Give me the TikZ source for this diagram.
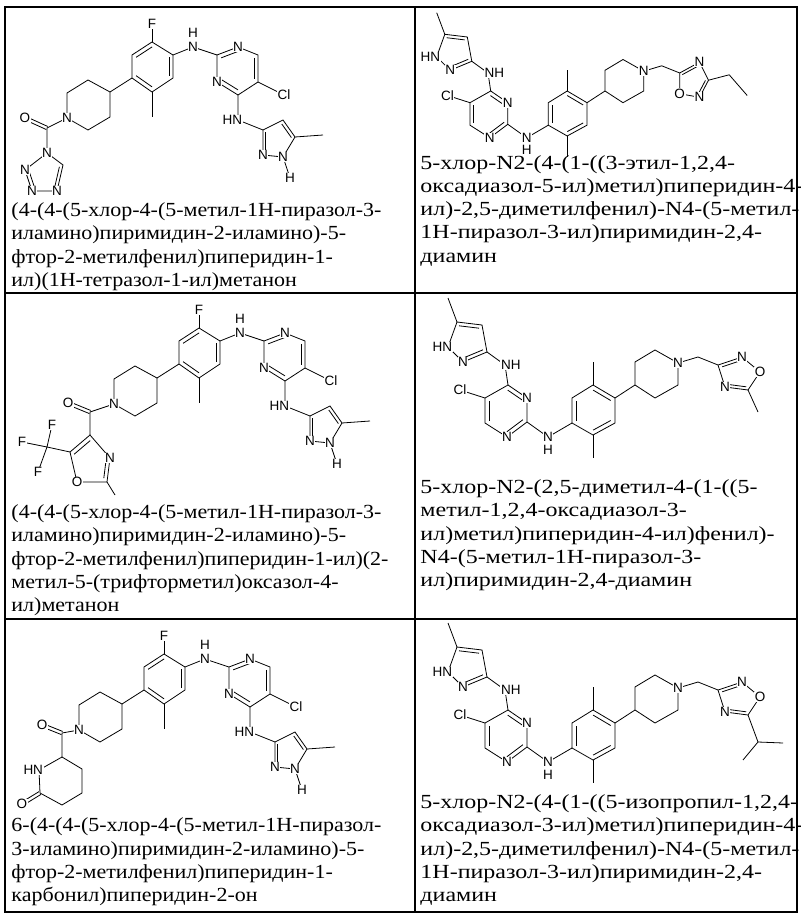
\documentclass[tikz,border=0pt]{standalone}
\usepackage{fontspec}
\setmainfont{Liberation Serif}
\setsansfont{Liberation Sans}
\usetikzlibrary{calc}
\newcommand\rdb[3]{\draw ($(#1)!0.2!(#3)$)--($(#2)!0.2!(#3)$);}
\newcommand\cdb[2]{\draw ($(#1)!1.7pt!90:(#2)$)--($(#2)!1.7pt!-90:(#1)$); \draw ($(#1)!1.7pt!-90:(#2)$)--($(#2)!1.7pt!90:(#1)$);}
\newcommand\leftcoords{%
 \coordinate (p1) at (152,42); \coordinate (p2) at (173,55); \coordinate (p3) at (173,78);
 \coordinate (p4) at (152,92); \coordinate (p5) at (132,78); \coordinate (p6) at (132,55);
 \coordinate (pc) at (152.5,66.5); \coordinate (F) at (152,24); \coordinate (me1) at (152,117);
 \coordinate (nh) at (193,47); \coordinate (h1) at (193,33);
 \coordinate (q1) at (217,55); \coordinate (q2) at (238,47); \coordinate (q3) at (258,55);
 \coordinate (q4) at (258,82); \coordinate (q5) at (238,95); \coordinate (q6) at (217,82);
 \coordinate (qc) at (237.7,69.3); \coordinate (cl) at (284,95); \coordinate (nh4) at (238,120);
 \coordinate (r1) at (263,130); \coordinate (r2) at (283,120); \coordinate (r3) at (295,137);
 \coordinate (r4) at (283,157); \coordinate (r5) at (263,155); \coordinate (rc) at (277,140);
 \coordinate (rh) at (290,178); \coordinate (me2) at (323,135);
 \coordinate (s1) at (110,92); \coordinate (s2) at (88,80); \coordinate (s3) at (67,93);
 \coordinate (s4) at (67,118); \coordinate (s5) at (88,130); \coordinate (s6) at (110,117);}
\newcommand\leftbonds{%
 \draw (p1)--(p2)--(p3)--(p4)--(p5)--(p6)--cycle;
 \rdb{p6}{p1}{pc}\rdb{p2}{p3}{pc}\rdb{p4}{p5}{pc}
 \draw (p1)--(F); \draw (p4)--(me1); \draw (p2)--(nh)--(q1);
 \draw (q1)--(q2)--(q3)--(q4)--(q5)--(q6)--cycle;
 \rdb{q1}{q2}{qc}\rdb{q3}{q4}{qc}\rdb{q5}{q6}{qc}
 \draw (q4)--(cl); \draw (q5)--(nh4)--(r1);
 \draw (r1)--(r2)--(r3)--(r4)--(r5)--cycle; \rdb{r2}{r3}{rc}\rdb{r5}{r1}{rc}
 \draw (r3)--(me2); \draw (r4)--(rh);
 \draw (p5)--(s1); \draw (s1)--(s2)--(s3)--(s4)--(s5)--(s6)--cycle;}
\newcommand\leftlabels[1]{%
 \node[atom] (#1F) at (F) {F};
 \node[atom] (#1Na) at (nh) {N}; \node[atom] (#1Ha) at (h1) {H};
 \node[atom] (#1Nb) at (q2) {N}; \node[atom] (#1Nc) at (q6) {N};
 \node[atom] (#1Cl) at (cl) {Cl};
 \node[atom,anchor=east] (#1Nd) at ($(nh4)+(5,0)$) {HN};
 \node[atom] (#1Ne) at (r4) {N}; \node[atom] (#1Nf) at (r5) {N}; \node[atom] (#1Hb) at (rh) {H};
 \node[atom] (#1Ng) at (s4) {N};}
\newcommand\rightcoords{%
 \coordinate (me) at (43,3); \coordinate (a1) at (52,27); \coordinate (a2) at (77,30);
 \coordinate (a3) at (82,57); \coordinate (a4) at (58,67); \coordinate (a5) at (43,52); \coordinate (ac) at (62,46);
 \coordinate (nh) at (100,70);
 \coordinate (b1) at (103,90); \coordinate (b2) at (122,103); \coordinate (b3) at (122,127);
 \coordinate (b4) at (102,142); \coordinate (b5) at (80,128); \coordinate (b6) at (80,103); \coordinate (bc) at (101.5,115.5);
 \coordinate (cl) at (55,95); \coordinate (nh2) at (143,142); \coordinate (h2) at (143,155);
 \coordinate (c1) at (167,128); \coordinate (c2) at (167,103); \coordinate (c3) at (188,90);
 \coordinate (c4) at (210,103); \coordinate (c5) at (210,128); \coordinate (c6) at (188,140); \coordinate (cc) at (188.5,115.5);
 \coordinate (mt) at (188,67); \coordinate (mb) at (188,163);
 \coordinate (d1) at (230,90); \coordinate (d2) at (230,67); \coordinate (d3) at (250,55);
 \coordinate (d4) at (273,68); \coordinate (d5) at (273,90); \coordinate (d6) at (250,103); \coordinate (ch2) at (293,62);}
\newcommand\rightbonds{%
 \draw (me)--(a1); \draw (a1)--(a2)--(a3)--(a4)--(a5)--cycle; \rdb{a1}{a2}{ac}\rdb{a3}{a4}{ac}
 \draw (a3)--(nh)--(b1);
 \draw (b1)--(b2)--(b3)--(b4)--(b5)--(b6)--cycle; \rdb{b1}{b2}{bc}\rdb{b3}{b4}{bc}\rdb{b5}{b6}{bc}
 \draw (b6)--(cl); \draw (b3)--(nh2)--(c1);
 \draw (c1)--(c2)--(c3)--(c4)--(c5)--(c6)--cycle; \rdb{c1}{c2}{cc}\rdb{c3}{c4}{cc}\rdb{c5}{c6}{cc}
 \draw (c3)--(mt); \draw (c6)--(mb); \draw (c4)--(d1);
 \draw (d1)--(d2)--(d3)--(d4)--(d5)--(d6)--cycle; \draw (d4)--(ch2);}
\newcommand\rightlabels[1]{%
 \node[atom,anchor=east] (#1Na) at ($(a5)+(5,0)$) {HN}; \node[atom] (#1Nb) at (a4) {N};
 \node[atom,anchor=west] (#1Nc) at ($(nh)+(-5,0)$) {NH};
 \node[atom] (#1Nd) at (b2) {N}; \node[atom] (#1Ne) at (b4) {N}; \node[atom] (#1Cl) at (cl) {Cl};
 \node[atom] (#1Nf) at (nh2) {N}; \node[atom] (#1H) at (h2) {H}; \node[atom] (#1Ng) at (d4) {N};}
\newcommand\oxthree{%
 \coordinate (e1) at (313,70); \coordinate (e2) at (337,62); \coordinate (e3) at (355,77);
 \coordinate (e4) at (343,95); \coordinate (e5) at (320,92); \coordinate (ec) at (334,79);
 \draw (ch2)--(e1); \draw (e1)--(e2)--(e3)--(e4)--(e5)--cycle; \rdb{e1}{e2}{ec}\rdb{e4}{e5}{ec}}
\tikzset{atom/.style={fill=white,inner sep=0.6pt,font=\fontsize{13.5}{13.5}\sffamily},
 txt/.style={anchor=base west,inner sep=0pt,transform shape,xscale=1.1,font=\fontsize{20}{22}\selectfont},
 rtxt/.style={txt,xscale=1.09},
 every path/.style={line width=0.8pt}}
\begin{document}
\begin{tikzpicture}[x=1pt,y=-1pt]
\useasboundingbox (0,0) rectangle (800,917);
\fill[white] (0,0) rectangle (800,917);
% table
\draw[line width=1.3pt] (5,7) rectangle (797,912);
\draw[line width=1.3pt] (415,7) -- (415,912);
\draw[line width=1.3pt] (5,293) -- (797,293);
\draw[line width=1.3pt] (5,619) -- (797,619);
% ---------- row 1 left
\begin{scope}
 \leftcoords
 \coordinate (co) at (47,128); \coordinate (ox) at (25,118); \coordinate (t1) at (47,153);
 \coordinate (t2) at (63,165); \coordinate (t3) at (57,191); \coordinate (t4) at (32,191);
 \coordinate (t5) at (25,170); \coordinate (tc) at (45,174);
 \leftbonds
 \draw (s4)--(co)--(t1); \cdb{co}{ox}
 \draw (t1)--(t2)--(t3)--(t4)--(t5)--cycle; \rdb{t2}{t3}{tc}\rdb{t4}{t5}{tc}
 \leftlabels{A}
 \node[atom] (AO) at (ox) {O}; \node[atom] (At1) at (t1) {N}; \node[atom] (At3) at (t3) {N};
 \node[atom] (At4) at (t4) {N}; \node[atom] (At5) at (t5) {N};
\end{scope}
% ---------- row 2 left
\begin{scope}[shift={(47,286)}]
 \leftcoords
 \coordinate (co) at (43,126); \coordinate (ox) at (21,117); \coordinate (o4) at (43,149);
 \coordinate (o3) at (63,172); \coordinate (o2) at (60,196); \coordinate (o1) at (30,196);
 \coordinate (o5) at (23,166); \coordinate (oc) at (44,177); \coordinate (cf) at (0,161);
 \coordinate (fa) at (5,139); \coordinate (fb) at (-25,156); \coordinate (fc) at (-9,186);
 \coordinate (om) at (68,209);
 \leftbonds
 \draw (s4)--(co)--(o4); \cdb{co}{ox}
 \draw (o4)--(o3)--(o2)--(o1)--(o5)--cycle; \rdb{o4}{o5}{oc}\rdb{o3}{o2}{oc}
 \draw (o5)--(cf); \draw (cf)--(fa); \draw (cf)--(fb); \draw (cf)--(fc); \draw (o2)--(om);
 \leftlabels{B}
 \node[atom] (BO) at (ox) {O}; \node[atom] (BN3) at (o3) {N}; \node[atom] (BO1) at (o1) {O};
 \node[atom] (BFa) at (fa) {F}; \node[atom] (BFb) at (fb) {F}; \node[atom] (BFc) at (fc) {F};
\end{scope}
% ---------- row 3 left
\begin{scope}[shift={(12,612)}]
 \leftcoords
 \coordinate (co) at (50,121); \coordinate (ox) at (30,113); \coordinate (k6) at (50,145);
 \coordinate (k1) at (27,158); \coordinate (k2) at (28,181); \coordinate (ko) at (10,192);
 \coordinate (k3) at (50,193); \coordinate (k4) at (70,181); \coordinate (k5) at (70,157);
 \leftbonds
 \draw (s4)--(co)--(k6); \cdb{co}{ox}
 \draw (k6)--(k1)--(k2)--(k3)--(k4)--(k5)--cycle; \cdb{k2}{ko}
 \leftlabels{C}
 \node[atom] (CO) at (ox) {O}; \node[atom,anchor=east] (CN1) at ($(k1)+(5,0)$) {HN};
 \node[atom] (CO2) at (ko) {O};
\end{scope}
% ---------- row 1 right
\begin{scope}[shift={(398,10)},scale=0.9]
 \rightcoords
 \coordinate (f1) at (313,70); \coordinate (f2) at (335,58); \coordinate (f3) at (345,78);
 \coordinate (f4) at (335,97); \coordinate (f5) at (313,93); \coordinate (fc) at (328,79);
 \rightbonds
 \draw (ch2)--(f1); \draw (f1)--(f2)--(f3)--(f4)--(f5)--cycle; \rdb{f1}{f2}{fc}\rdb{f3}{f4}{fc}
 \draw (f3)--(368,72)--(388,95);
 \rightlabels{D}
 \node[atom] (DN4) at (f2) {N}; \node[atom] (DN2) at (f4) {N}; \node[atom] (DO1) at (f5) {O};
\end{scope}
% ---------- row 2 right
\begin{scope}[shift={(405,295)}]
 \rightcoords
 \rightbonds
 \oxthree
 \draw (e4)--(353,117);
 \rightlabels{E}
 \node[atom] (EN2) at (e2) {N}; \node[atom] (EO1) at (e3) {O}; \node[atom] (EN4) at (e5) {N};
\end{scope}
% ---------- row 3 right
\begin{scope}[shift={(405,620)}]
 \rightcoords
 \rightbonds
 \oxthree
 \coordinate (ip) at (353,122);
 \draw (e4)--(ip); \draw (ip)--(378,123); \draw (ip)--(338,140);
 \rightlabels{G}
 \node[atom] (GN2) at (e2) {N}; \node[atom] (GO1) at (e3) {O}; \node[atom] (GN4) at (e5) {N};
\end{scope}
% ---------- texts
\node[txt] (l1a) at (11,217) {(4-(4-(5-хлор-4-(5-метил-1H-пиразол-3-};
\node[txt] (l1b) at (11,240) {иламино)пиримидин-2-иламино)-5-};
\node[txt] (l1c) at (11,263) {фтор-2-метилфенил)пиперидин-1-};
\node[txt] (l1d) at (11,286) {ил)(1H-тетразол-1-ил)метанон};
\node[rtxt] (r1a) at (420,170) {5-хлор-N2-(4-(1-((3-этил-1,2,4-};
\node[rtxt] (r1b) at (420,193) {оксадиазол-5-ил)метил)пиперидин-4-};
\node[rtxt] (r1c) at (420,216) {ил)-2,5-диметилфенил)-N4-(5-метил-};
\node[rtxt] (r1d) at (420,239) {1H-пиразол-3-ил)пиримидин-2,4-};
\node[rtxt] (r1e) at (420,262) {диамин};
\node[txt] (l2a) at (11,518) {(4-(4-(5-хлор-4-(5-метил-1H-пиразол-3-};
\node[txt] (l2b) at (11,541) {иламино)пиримидин-2-иламино)-5-};
\node[txt] (l2c) at (11,565) {фтор-2-метилфенил)пиперидин-1-ил)(2-};
\node[txt] (l2d) at (11,588) {метил-5-(трифторметил)оксазол-4-};
\node[txt] (l2e) at (11,611) {ил)метанон};
\node[rtxt] (r2a) at (420,493) {5-хлор-N2-(2,5-диметил-4-(1-((5-};
\node[rtxt] (r2b) at (420,516) {метил-1,2,4-оксадиазол-3-};
\node[rtxt] (r2c) at (420,540) {ил)метил)пиперидин-4-ил)фенил)-};
\node[rtxt] (r2d) at (420,563) {N4-(5-метил-1H-пиразол-3-};
\node[rtxt] (r2e) at (420,586) {ил)пиримидин-2,4-диамин};
\node[txt] (l3a) at (11,831) {6-(4-(4-(5-хлор-4-(5-метил-1H-пиразол-};
\node[txt] (l3b) at (11,855) {3-иламино)пиримидин-2-иламино)-5-};
\node[txt] (l3c) at (11,878) {фтор-2-метилфенил)пиперидин-1-};
\node[txt] (l3d) at (11,901) {карбонил)пиперидин-2-он};
\node[rtxt] (r3a) at (420,808) {5-хлор-N2-(4-(1-((5-изопропил-1,2,4-};
\node[rtxt] (r3b) at (420,831) {оксадиазол-3-ил)метил)пиперидин-4-};
\node[rtxt] (r3c) at (420,855) {ил)-2,5-диметилфенил)-N4-(5-метил-};
\node[rtxt] (r3d) at (420,878) {1H-пиразол-3-ил)пиримидин-2,4-};
\node[rtxt] (r3e) at (420,901) {диамин};
\end{tikzpicture}
\end{document}
